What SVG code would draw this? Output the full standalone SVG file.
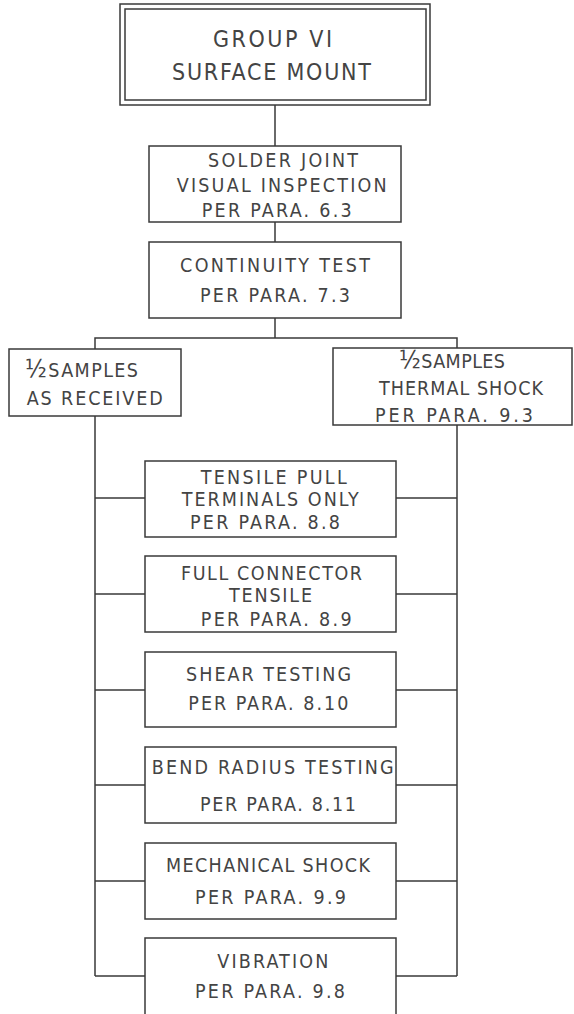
<svg xmlns="http://www.w3.org/2000/svg" width="574" height="1014" viewBox="0 0 574 1014">
<style>
.b{fill:#fff;stroke:#3a3a3a;stroke-width:1.5}
.c{fill:none;stroke:#3a3a3a;stroke-width:1.5}
text{font-family:"DejaVu Sans Condensed","DejaVu Sans","Liberation Sans",sans-serif;font-size:19.5px;fill:#444;font-weight:normal}
.t{font-size:23px}
.h{font-size:25px}
</style>
<rect width="574" height="1014" fill="#fff"/>
<g id="connectors">
<path class="c" d="M275 105V146M275 222V242M275 318V338M95 349V338H457V348"/>
<path class="c" d="M95 416V976M457 425V976"/>
<path class="c" d="M95 498H145M396 498H457M95 594H145M396 594H457M95 690H145M396 690H457M95 785H145M396 785H457M95 881H145M396 881H457M95 976H145M396 976H457"/>
</g>
<g id="group-vi">
<rect class="b" x="120" y="4" width="310" height="101"/>
<rect class="b" x="125" y="9" width="301" height="91"/>
<text class="t" x="213" y="46.7" textLength="119" lengthAdjust="spacing">GROUP VI</text>
<text class="t" x="172" y="80" textLength="199" lengthAdjust="spacing">SURFACE MOUNT</text>
</g>
<g id="solder">
<rect class="b" x="149" y="146" width="252" height="76"/>
<text x="208" y="166.7" textLength="150" lengthAdjust="spacing">SOLDER JOINT</text>
<text x="176.7" y="191.7" textLength="210" lengthAdjust="spacing">VISUAL INSPECTION</text>
<text x="201.7" y="216.7" textLength="150" lengthAdjust="spacing">PER PARA. 6.3</text>
</g>
<g id="continuity">
<rect class="b" x="149" y="242" width="252" height="76"/>
<text x="180" y="271.7" textLength="190" lengthAdjust="spacing">CONTINUITY TEST</text>
<text x="200" y="302.3" textLength="150" lengthAdjust="spacing">PER PARA. 7.3</text>
</g>
<g id="as-received">
<rect class="b" x="9" y="349" width="172" height="67"/>
<text x="25" y="376.7" textLength="113" lengthAdjust="spacing"><tspan class="h">½</tspan>SAMPLES</text>
<text x="26.7" y="405" textLength="136" lengthAdjust="spacing">AS RECEIVED</text>
</g>
<g id="thermal-shock">
<rect class="b" x="333" y="348" width="239" height="77"/>
<text x="399" y="368.3" textLength="106" lengthAdjust="spacing"><tspan class="h">½</tspan>SAMPLES</text>
<text x="379" y="395" textLength="164" lengthAdjust="spacing">THERMAL SHOCK</text>
<text x="375" y="421.7" textLength="158" lengthAdjust="spacing">PER PARA. 9.3</text>
</g>
<g id="tensile-pull">
<rect class="b" x="145" y="461" width="251" height="76"/>
<text x="200.7" y="484.3" textLength="146" lengthAdjust="spacing">TENSILE PULL</text>
<text x="181.7" y="505.7" textLength="177" lengthAdjust="spacing">TERMINALS ONLY</text>
<text x="190" y="529.3" textLength="150" lengthAdjust="spacing">PER PARA. 8.8</text>
</g>
<g id="full-connector">
<rect class="b" x="145" y="556" width="251" height="76"/>
<text x="181" y="580" textLength="181" lengthAdjust="spacing">FULL CONNECTOR</text>
<text x="229" y="602.3" textLength="83" lengthAdjust="spacing">TENSILE</text>
<text x="200.7" y="626" textLength="151" lengthAdjust="spacing">PER PARA. 8.9</text>
</g>
<g id="shear">
<rect class="b" x="145" y="652" width="251" height="75"/>
<text x="186" y="681" textLength="165" lengthAdjust="spacing">SHEAR TESTING</text>
<text x="188.3" y="710" textLength="160" lengthAdjust="spacing">PER PARA. 8.10</text>
</g>
<g id="bend-radius">
<rect class="b" x="145" y="747" width="251" height="76"/>
<text x="151.7" y="774.3" textLength="242" lengthAdjust="spacing">BEND RADIUS TESTING</text>
<text x="200" y="810.7" textLength="156" lengthAdjust="spacing">PER PARA. 8.11</text>
</g>
<g id="mechanical-shock">
<rect class="b" x="145" y="843" width="251" height="76"/>
<text x="166" y="872.3" textLength="204" lengthAdjust="spacing">MECHANICAL SHOCK</text>
<text x="195" y="904" textLength="151" lengthAdjust="spacing">PER PARA. 9.9</text>
</g>
<g id="vibration">
<rect class="b" x="145" y="938" width="251" height="82"/>
<text x="217.3" y="968.3" textLength="111" lengthAdjust="spacing">VIBRATION</text>
<text x="195" y="998.3" textLength="150" lengthAdjust="spacing">PER PARA. 9.8</text>
</g>
</svg>
